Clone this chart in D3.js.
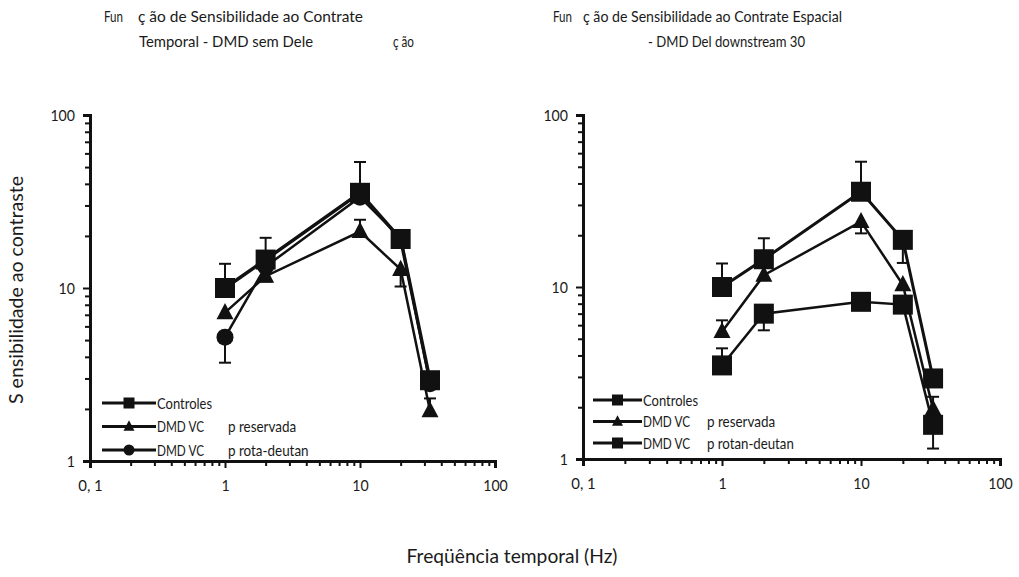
<!DOCTYPE html>
<html><head><meta charset="utf-8">
<script src="https://cdn.jsdelivr.net/npm/d3@7"></script>
<style>
body{margin:0;background:#fff;}
text{font-family:"Lato","Open Sans",sans-serif;fill:#1a1a1a;}
</style></head>
<body><svg id="c" width="1019" height="577"></svg>
<script>
// ---- data ----
const freqs = [1, 2, 10, 20, 33];
const xTickLabels = ["0, 1", "1", "10", "100"];
const yTickLabels = ["1", "10", "100"];

// Left panel (Temporal - DMD sem Deleção)
const leftControles = [10, 14.6, 35.5, 19.2, 2.93];
const leftControlesHi = [13.8, 19.5, 53.5, null, null];
const leftControlesLo = [null, null, null, null, null];
const leftPreservada = [7.2, 11.7, 21.2, 12.8, 1.95];
const leftPreservadaHi = [null, null, 24.8, null, 2.3];
const leftPreservadaLo = [null, 10.9, null, 10.2, null];
const leftProtaDeutan = [5.2, 13.3, 33.5, 19.5, 2.8];
const leftProtaDeutanHi = [null, null, null, null, null];
const leftProtaDeutanLo = [3.7, null, null, null, null];

// Right panel (Espacial - DMD Del downstream 30)
const rightControles = [10, 14.5, 35.8, 18.8, 2.94];
const rightControlesHi = [13.7, 19.2, 53.5, null, null];
const rightControlesLo = [null, null, null, 13.8, null];
const rightPreservada = [5.5, 11.7, 24, 10.3, 1.95];
const rightPreservadaHi = [6.4, null, null, null, 2.3];
const rightPreservadaLo = [null, null, 20.5, null, null];
const rightProtanDeutan = [3.5, 7.0, 8.2, 7.9, 1.58];
const rightProtanDeutanHi = [4.4, null, null, null, null];
const rightProtanDeutanLo = [null, 5.6, null, null, 1.15];

const svg = d3.select("#c");

function panel(opt){
  const x = d3.scaleLog().domain([0.1,100]).range([opt.x0, opt.x1]);
  const y = d3.scaleLog().domain([1,100]).range([opt.y0, opt.y1]);
  const g = svg.append("g");
  const majors = [0.1,1,10,100];
  const minors = x.ticks().filter(v => !majors.some(m => Math.abs(m-v)<1e-9));
  const ymaj = [1,10,100];
  const yminors = y.ticks().filter(v => !ymaj.some(m => Math.abs(m-v)<1e-9));

  const xa = g.append("g").attr("transform",`translate(0,${opt.y0})`);
  xa.call(d3.axisBottom(x).tickValues(minors).tickSize(5).tickFormat(""));
  const xm = g.append("g").attr("transform",`translate(0,${opt.y0})`);
  xm.call(d3.axisBottom(x).tickValues(majors).tickSize(7).tickPadding(12).tickFormat((d,i)=>xTickLabels[i]));
  const ya = g.append("g").attr("transform",`translate(${opt.x0},0)`);
  ya.call(d3.axisLeft(y).tickValues(yminors).tickSize(5).tickFormat(""));
  const ym = g.append("g").attr("transform",`translate(${opt.x0},0)`);
  ym.call(d3.axisLeft(y).tickValues(ymaj).tickSize(7).tickPadding(8).tickFormat((d,i)=>yTickLabels[i]));
  g.selectAll(".domain").attr("stroke","#111").attr("stroke-width",3);
  g.selectAll(".tick line").attr("stroke","#111").attr("stroke-width",2);
  g.selectAll(".tick text").style("font-size","16px").attr("fill","#1a1a1a")
    .attr("textLength",function(){ return this.textContent.replace(/ /g,"").length*8.2; })
    .attr("lengthAdjust","spacingAndGlyphs");

  opt.series.forEach(s=>{
    const line = d3.line().x((d,i)=>x(freqs[i])).y(d=>y(d));
    const eg = g.append("g").attr("stroke","#111").attr("stroke-width",2);
    freqs.forEach((f,i)=>{
      [s.hi[i], s.lo[i]].forEach(e=>{
        if(e==null) return;
        eg.append("line").attr("x1",x(f)).attr("x2",x(f)).attr("y1",y(s.values[i])).attr("y2",y(e));
        eg.append("line").attr("x1",x(f)-6).attr("x2",x(f)+6).attr("y1",y(e)).attr("y2",y(e));
      });
    });
    g.append("path").datum(s.values).attr("d",line).attr("fill","none")
      .attr("stroke","#111").attr("stroke-width",s.lw);
    s.values.forEach((v,i)=>drawMarker(g, s.marker, x(freqs[i]), y(v), s.size));
  });

  opt.series.forEach((s,k)=>{
    const ly = opt.legY + k*opt.legDy;
    g.append("line").attr("x1",opt.legX0).attr("x2",opt.legX1).attr("y1",ly).attr("y2",ly)
      .attr("stroke","#111").attr("stroke-width",3);
    drawMarker(g, s.marker, (opt.legX0+opt.legX1)/2, ly, 11);
    g.append("text").attr("x",opt.legX1+1).attr("y",ly+5.5).style("font-size","16px")
      .attr("textLength", s.name==="Controles"?55:47).attr("lengthAdjust","spacingAndGlyphs").text(s.name);
    if(s.name2) g.append("text").attr("x",opt.legX2).attr("y",ly+5.5).style("font-size","16px")
      .attr("textLength", s.name2.length*6.2).attr("lengthAdjust","spacingAndGlyphs").text(s.name2);
  });
}

function drawMarker(g, type, cx, cy, size){
  if(type==="square"){
    g.append("rect").attr("x",cx-size/2).attr("y",cy-size/2).attr("width",size).attr("height",size).attr("fill","#111");
  } else if(type==="triangle"){
    const h=size*0.95;
    g.append("path").attr("d",`M${cx},${cy-h*0.6}L${cx+size/2},${cy+h*0.4}L${cx-size/2},${cy+h*0.4}Z`).attr("fill","#111");
  } else {
    g.append("circle").attr("cx",cx).attr("cy",cy).attr("r",size/2).attr("fill","#111");
  }
}

panel({x0:90,x1:495,y0:461,y1:115,legX0:102,legX1:156,legX2:228,legY:403,legDy:23.5,
  series:[
   {name:"Controles",values:leftControles,hi:leftControlesHi,lo:leftControlesLo,marker:"square",size:20,lw:3.5},
   {name:"DMD VC",name2:"p reservada",values:leftPreservada,hi:leftPreservadaHi,lo:leftPreservadaLo,marker:"triangle",size:17,lw:2.5},
   {name:"DMD VC",name2:"p rota-deutan",values:leftProtaDeutan,hi:leftProtaDeutanHi,lo:leftProtaDeutanLo,marker:"circle",size:17,lw:2.5}
  ]});
panel({x0:583,x1:1000,y0:459,y1:115,legX0:593,legX1:642,legX2:707,legY:400,legDy:21.5,
  series:[
   {name:"Controles",values:rightControles,hi:rightControlesHi,lo:rightControlesLo,marker:"square",size:20,lw:3},
   {name:"DMD VC",name2:"p reservada",values:rightPreservada,hi:rightPreservadaHi,lo:rightPreservadaLo,marker:"triangle",size:17,lw:2.5},
   {name:"DMD VC",name2:"p rotan-deutan",values:rightProtanDeutan,hi:rightProtanDeutanHi,lo:rightProtanDeutanLo,marker:"square",size:20,lw:2.5}
  ]});

const titles = [
  {x:104, y:22, s:"Fun", w:19},
  {x:138, y:22, s:"ç ão de Sensibilidade ao Contrate", w:225},
  {x:139, y:47, s:"Temporal - DMD sem Dele", w:174},
  {x:393, y:47, s:"ç ão", w:21},
  {x:553, y:22, s:"Fun", w:19},
  {x:583, y:22, s:"ç ão de Sensibilidade ao Contrate Espacial", w:259},
  {x:648, y:47, s:"- DMD Del downstream 30", w:157}
];
svg.append("g").selectAll("text").data(titles).join("text")
  .attr("x",d=>d.x).attr("y",d=>d.y).style("font-size","15px")
  .attr("textLength",d=>d.w).attr("lengthAdjust","spacingAndGlyphs").text(d=>d.s);

svg.append("text").attr("transform","translate(23,290) rotate(-90)").attr("text-anchor","middle")
  .style("font-size","19px").attr("textLength",228).attr("lengthAdjust","spacingAndGlyphs")
  .text("S ensibilidade ao contraste");
svg.append("text").attr("x",512).attr("y",563).attr("text-anchor","middle")
  .style("font-size","20px").attr("textLength",211).attr("lengthAdjust","spacingAndGlyphs")
  .text("Freqüência temporal (Hz)");
</script></body></html>
